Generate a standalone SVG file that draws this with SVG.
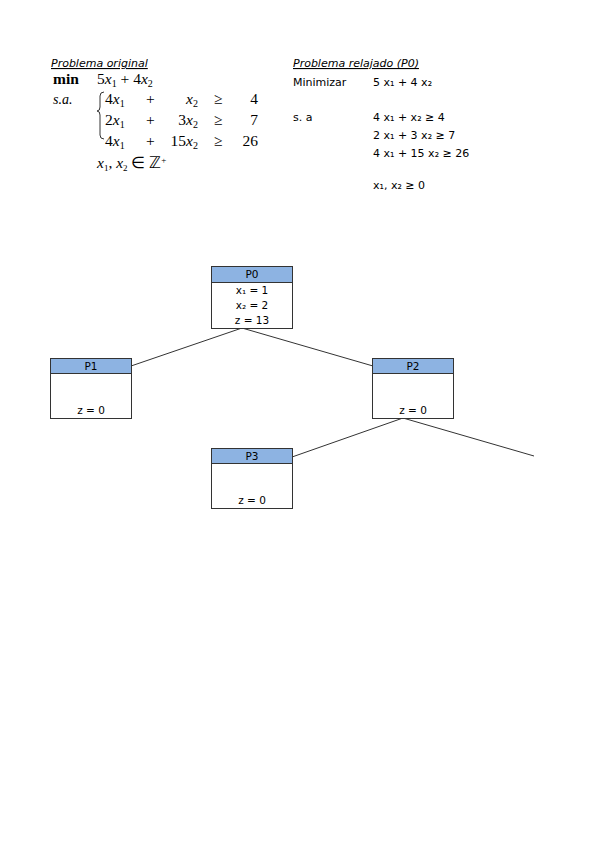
<svg xmlns="http://www.w3.org/2000/svg" width="599" height="848" viewBox="0 0 599 848">
<style>
.s{font-family:"DejaVu Sans",sans-serif;font-size:11px;fill:#000}
.t{font-family:"Liberation Serif",serif;font-size:15.5px;fill:#000}
.ti{font-family:"Liberation Serif",serif;font-size:14px;font-style:italic;fill:#000}
.h{font-family:"DejaVu Sans",sans-serif;font-size:11px;font-style:italic;text-decoration:underline;fill:#000}
.box{fill:#fff;stroke:#333;stroke-width:1}
.hd{fill:#8db3e2;stroke:#333;stroke-width:1}
.n{font-family:"DejaVu Sans",sans-serif;font-size:10.5px;fill:#000;text-anchor:middle}
.c{stroke:#333;stroke-width:1;fill:none}
</style>
<rect width="599" height="848" fill="#fff"/>
<g id="original">
<text class="h" x="51" y="67">Problema original</text>
<text class="t" x="53" y="84" font-weight="bold">min</text>
<text class="t" x="97" y="84">5<tspan font-style="italic">x</tspan><tspan font-size="10" dy="3">1</tspan><tspan dy="-3"> + 4</tspan><tspan font-style="italic">x</tspan><tspan font-size="10" dy="3">2</tspan></text>
<text class="ti" x="53" y="104">s.a.</text>
<path d="M104,92 q-4,0 -4,4 v11 q0,4 -3,4 q3,0 3,4 v20 q0,4 4,4" class="c" stroke="#555"/>
<text class="t" x="105" y="104">4<tspan font-style="italic">x</tspan><tspan font-size="10" dy="3">1</tspan></text>
<text class="t" x="146" y="104">+</text>
<text class="t" x="198" y="104" text-anchor="end"><tspan font-style="italic">x</tspan><tspan font-size="10" dy="3">2</tspan></text>
<text class="t" x="214" y="104">≥</text>
<text class="t" x="258" y="104" text-anchor="end">4</text>
<text class="t" x="105" y="125">2<tspan font-style="italic">x</tspan><tspan font-size="10" dy="3">1</tspan></text>
<text class="t" x="146" y="125">+</text>
<text class="t" x="198" y="125" text-anchor="end">3<tspan font-style="italic">x</tspan><tspan font-size="10" dy="3">2</tspan></text>
<text class="t" x="214" y="125">≥</text>
<text class="t" x="258" y="125" text-anchor="end">7</text>
<text class="t" x="105" y="146">4<tspan font-style="italic">x</tspan><tspan font-size="10" dy="3">1</tspan></text>
<text class="t" x="146" y="146">+</text>
<text class="t" x="198" y="146" text-anchor="end">15<tspan font-style="italic">x</tspan><tspan font-size="10" dy="3">2</tspan></text>
<text class="t" x="214" y="146">≥</text>
<text class="t" x="258" y="146" text-anchor="end">26</text>
<text class="t" x="97" y="168" font-size="14"><tspan font-style="italic">x</tspan><tspan font-size="9" dy="3">1</tspan><tspan dy="-3">,  </tspan><tspan font-style="italic">x</tspan><tspan font-size="9" dy="3">2</tspan><tspan dy="-3"> ∈ ℤ</tspan><tspan font-size="9" dy="-5">+</tspan></text>
</g>
<g id="relajado">
<text class="h" x="293" y="67">Problema relajado (P0)</text>
<text class="s" x="293" y="86">Minimizar</text>
<text class="s" x="373" y="86">5 x₁ + 4 x₂</text>
<text class="s" x="293" y="121">s. a</text>
<text class="s" x="373" y="121">4 x₁ + x₂ ≥ 4</text>
<text class="s" x="373" y="139">2 x₁ + 3 x₂ ≥ 7</text>
<text class="s" x="373" y="157">4 x₁ + 15 x₂ ≥ 26</text>
<text class="s" x="373" y="189">x₁, x₂ ≥ 0</text>
</g>
<g id="connectors">
<line class="c" x1="242" y1="328" x2="131" y2="366"/>
<line class="c" x1="242" y1="328" x2="373" y2="366"/>
<line class="c" x1="403" y1="418" x2="292" y2="457"/>
<line class="c" x1="403" y1="418" x2="534" y2="456"/>
</g>
<g id="P0">
<rect class="box" x="211.5" y="266.5" width="81" height="62"/>
<rect class="hd" x="211.5" y="266.5" width="81" height="16"/>
<text class="n" x="252" y="278">P0</text>
<text class="n" x="252" y="294">x₁ = 1</text>
<text class="n" x="252" y="309">x₂ = 2</text>
<text class="n" x="252" y="324">z = 13</text>
</g>
<g id="P1">
<rect class="box" x="50.5" y="358.5" width="81" height="60"/>
<rect class="hd" x="50.5" y="358.5" width="81" height="15"/>
<text class="n" x="91" y="370">P1</text>
<text class="n" x="91" y="414">z = 0</text>
</g>
<g id="P2">
<rect class="box" x="372.5" y="358.5" width="81" height="60"/>
<rect class="hd" x="372.5" y="358.5" width="81" height="15"/>
<text class="n" x="413" y="370">P2</text>
<text class="n" x="413" y="414">z = 0</text>
</g>
<g id="P3">
<rect class="box" x="211.5" y="448.5" width="81" height="60"/>
<rect class="hd" x="211.5" y="448.5" width="81" height="15"/>
<text class="n" x="252" y="460">P3</text>
<text class="n" x="252" y="504">z = 0</text>
</g>
</svg>
